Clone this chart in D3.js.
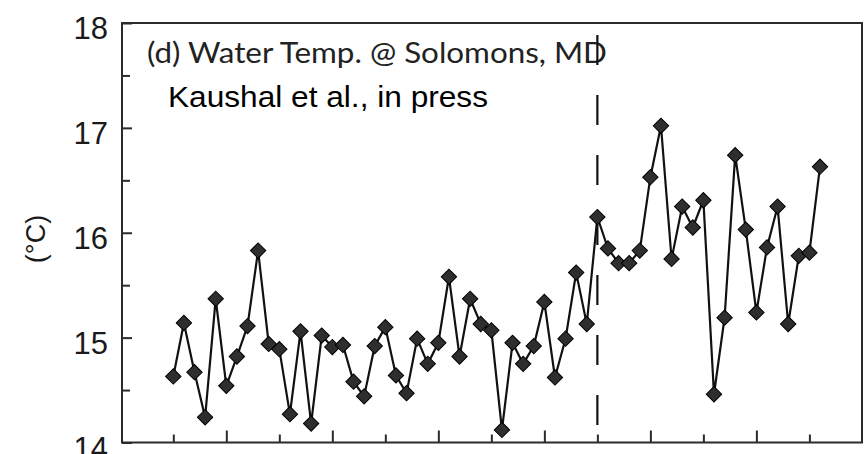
<!DOCTYPE html>
<html>
<head>
<meta charset="utf-8">
<script src="https://cdn.jsdelivr.net/npm/d3@7"></script>
<style>
  html, body { margin: 0; padding: 0; background: #fff; }
  svg { display: block; }
</style>
</head>
<body>
<svg id="chart" width="865" height="454"></svg>
<script>
// Annual mean water temperature at Solomons, MD (°C)
const years = d3.range(1945, 2007);
const temps = [
  14.63, 15.14, 14.67, 14.24, 15.37, 14.54, 14.82, 15.11, 15.83, 14.94,
  14.89, 14.27, 15.06, 14.18, 15.02, 14.91, 14.93, 14.58, 14.44, 14.92,
  15.10, 14.64, 14.47, 14.99, 14.75, 14.95, 15.58, 14.82, 15.37, 15.13,
  15.07, 14.12, 14.95, 14.75, 14.92, 15.34, 14.62, 14.99, 15.62, 15.13,
  16.15, 15.85, 15.71, 15.71, 15.83, 16.53, 17.02, 15.75, 16.25, 16.05,
  16.31, 14.46, 15.19, 16.74, 16.03, 15.24, 15.86, 16.25, 15.13, 15.78,
  15.81, 16.63
];
const yTicks = [14, 15, 16, 17, 18];
const yMinorTicks = [14.5, 15.5, 16.5, 17.5];
const xTicks = d3.range(1945, 2006, 5);
const breakYear = 1985;
const panelTitle = "(d) Water Temp. @ Solomons, MD";
const sourceNote = "Kaushal et al., in press";
const yLabel = "(\u00B0C)";

const svg = d3.select("#chart");
const frame = { left: 122, right: 862, top: 23, bottom: 442.5 };

const x = d3.scaleLinear().domain([1945, 2006]).range([173.3, 820]);
const y = d3.scaleLinear().domain([14, 18]).range([frame.bottom, frame.top]);

const ink = "#2b2b2b";

// y axis: major ticks with labels, minor ticks between
const yAxis = svg.append("g")
  .attr("transform", `translate(${frame.left},0)`)
  .call(d3.axisRight(y).tickValues(yTicks).tickSize(10).tickFormat(""));
const yMinor = svg.append("g")
  .attr("transform", `translate(${frame.left},0)`)
  .call(d3.axisRight(y).tickValues(yMinorTicks).tickSize(8).tickFormat(""));
[yAxis, yMinor].forEach(g => {
  g.select(".domain").remove();
  g.selectAll(".tick line").attr("stroke", ink).attr("stroke-width", 2);
});

svg.append("g").selectAll("text")
  .data(yTicks)
  .join("text")
  .attr("x", 108)
  .attr("y", d => y(d) + 16)
  .attr("text-anchor", "end")
  .attr("font-family", "Liberation Sans, Arial, sans-serif")
  .attr("font-size", 31)
  .attr("fill", "#1a1a1a")
  .text(d => d);

// x axis ticks (inward): decades long, half-decades short
const xAxis = svg.append("g")
  .attr("transform", `translate(0,${frame.bottom})`)
  .call(d3.axisTop(x).tickValues(xTicks).tickFormat(""));
xAxis.select(".domain").remove();
xAxis.selectAll(".tick line")
  .attr("y2", d => d % 10 === 0 ? -12 : -8)
  .attr("stroke", ink)
  .attr("stroke-width", 2);

// frame
svg.append("rect")
  .attr("x", frame.left).attr("y", frame.top)
  .attr("width", frame.right - frame.left)
  .attr("height", frame.bottom - frame.top)
  .attr("fill", "none")
  .attr("stroke", ink)
  .attr("stroke-width", 2);

// y label
svg.append("text")
  .attr("transform", `translate(45,239) rotate(-90)`)
  .attr("text-anchor", "middle")
  .attr("font-family", "Liberation Sans, Arial, sans-serif")
  .attr("font-size", 27)
  .attr("fill", "#1a1a1a")
  .text(yLabel);

// panel title and source
svg.append("text")
  .attr("x", 147)
  .attr("y", 63)
  .attr("font-family", "Lato, 'Open Sans', sans-serif")
  .attr("font-size", 28)
  .attr("fill", "#222")
  .attr("textLength", 460)
  .attr("lengthAdjust", "spacingAndGlyphs")
  .text(panelTitle);

svg.append("text")
  .attr("x", 168)
  .attr("y", 107)
  .attr("font-family", "Liberation Sans, Arial, sans-serif")
  .attr("font-size", 30)
  .attr("fill", "#000")
  .attr("textLength", 320)
  .attr("lengthAdjust", "spacingAndGlyphs")
  .text(sourceNote);

// regime-shift marker
svg.append("line")
  .attr("x1", x(breakYear)).attr("x2", x(breakYear))
  .attr("y1", 35).attr("y2", frame.bottom)
  .attr("stroke", "#111")
  .attr("stroke-width", 2.2)
  .attr("stroke-dasharray", "30,30");

// series line
const pts = years.map((yr, i) => [yr, temps[i]]);
svg.append("path")
  .datum(pts)
  .attr("fill", "none")
  .attr("stroke", "#111")
  .attr("stroke-width", 2.2)
  .attr("d", d3.line().x(d => x(d[0])).y(d => y(d[1])));

// diamond markers
const diamond = d3.symbol(d3.symbolSquare, 118)();
svg.append("g").selectAll("path")
  .data(pts)
  .join("path")
  .attr("d", diamond)
  .attr("transform", d => `translate(${x(d[0])},${y(d[1])}) rotate(45)`)
  .attr("fill", "#2e2e2e")
  .attr("stroke", "#000")
  .attr("stroke-width", 1);
</script>
</body>
</html>
